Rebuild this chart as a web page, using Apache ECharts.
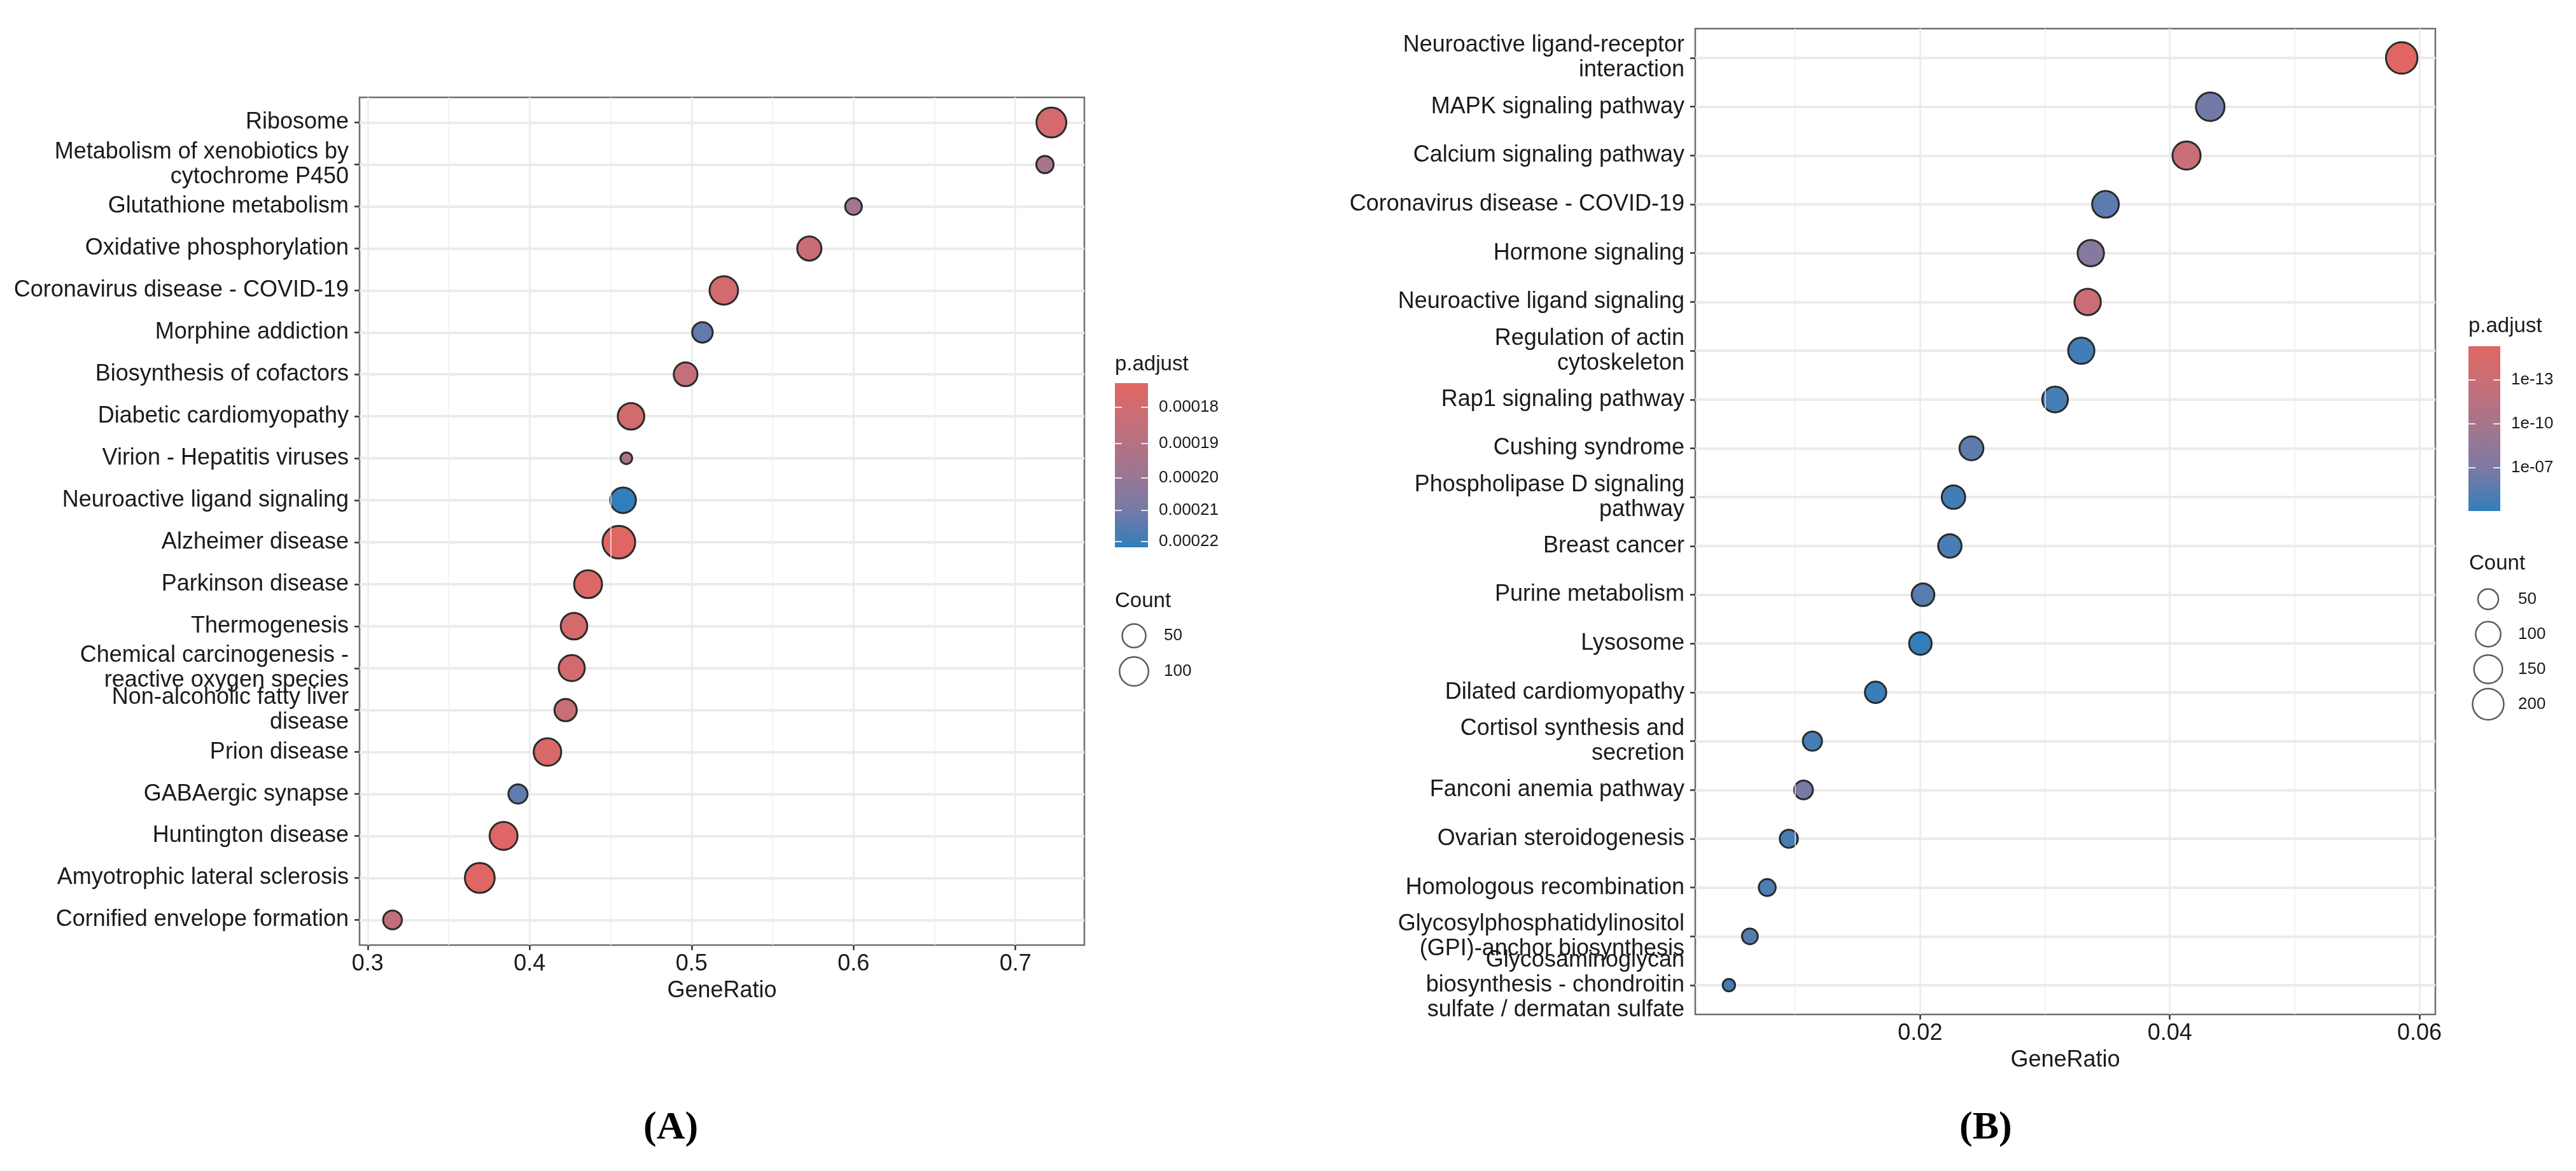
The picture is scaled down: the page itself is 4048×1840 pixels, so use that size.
<!DOCTYPE html>
<html>
<head>
<meta charset="utf-8">
<title>KEGG dot plots</title>
<script src="https://cdn.jsdelivr.net/npm/echarts@6/dist/echarts.min.js"></script>
<style>
  html, body {margin: 0; padding: 0; background: #fff;}
  #chart {width: 4048px; height: 1840px;}
</style>
</head>
<body>
<div id="chart"></div>
<script>
// ---- panel A ----
const aTerms = [
    'Ribosome',
    'Metabolism of xenobiotics by\ncytochrome P450',
    'Glutathione metabolism',
    'Oxidative phosphorylation',
    'Coronavirus disease - COVID-19',
    'Morphine addiction',
    'Biosynthesis of cofactors',
    'Diabetic cardiomyopathy',
    'Virion - Hepatitis viruses',
    'Neuroactive ligand signaling',
    'Alzheimer disease',
    'Parkinson disease',
    'Thermogenesis',
    'Chemical carcinogenesis -\nreactive oxygen species',
    'Non-alcoholic fatty liver\ndisease',
    'Prion disease',
    'GABAergic synapse',
    'Huntington disease',
    'Amyotrophic lateral sclerosis',
    'Cornified envelope formation',
]
const aGeneRatio = [0.7222, 0.7182, 0.6, 0.5727, 0.5199, 0.5067, 0.4963, 0.4626, 0.4597, 0.4577,
    0.4551, 0.4361, 0.4274, 0.426, 0.4222, 0.411, 0.3928, 0.3839, 0.3692, 0.3153]
const aCount = [110, 15, 13, 55, 95, 30, 51, 75, 5, 67, 145, 89, 75, 71, 41, 85, 23, 89, 110, 21]
const aPAdjust = [1.779e-4, 1.939e-4, 1.963e-4, 1.824e-4, 1.788e-4, 2.135e-4, 1.846e-4, 1.788e-4, 1.939e-4, 2.22e-4,
    1.736e-4, 1.757e-4, 1.779e-4, 1.788e-4, 1.832e-4, 1.761e-4, 2.135e-4, 1.745e-4, 1.74e-4, 1.855e-4]
const aRatioTicks = [0.3, 0.4, 0.5, 0.6, 0.7]
const aRatioMinor = [0.35, 0.45, 0.55, 0.65]
const aColorTicks = [0.00018, 0.00019, 0.0002, 0.00021, 0.00022]
const aCountBreaks = [50, 100]

// ---- panel B ----
const bTerms = [
    'Neuroactive ligand-receptor\ninteraction',
    'MAPK signaling pathway',
    'Calcium signaling pathway',
    'Coronavirus disease - COVID-19',
    'Hormone signaling',
    'Neuroactive ligand signaling',
    'Regulation of actin\ncytoskeleton',
    'Rap1 signaling pathway',
    'Cushing syndrome',
    'Phospholipase D signaling\npathway',
    'Breast cancer',
    'Purine metabolism',
    'Lysosome',
    'Dilated cardiomyopathy',
    'Cortisol synthesis and\nsecretion',
    'Fanconi anemia pathway',
    'Ovarian steroidogenesis',
    'Homologous recombination',
    'Glycosylphosphatidylinositol\n(GPI)-anchor biosynthesis',
    'Glycosaminoglycan\nbiosynthesis - chondroitin\nsulfate / dermatan sulfate',
]
const bGeneRatio = [0.05858, 0.04324, 0.04134, 0.03485, 0.03367, 0.03342, 0.03291, 0.03081, 0.02411, 0.02267,
    0.02238, 0.02023, 0.02002, 0.01643, 0.01137, 0.01066, 0.00948, 0.00775, 0.00636, 0.00468]
const bCount = [206, 152, 145, 123, 118, 118, 116, 108, 85, 80, 79, 71, 70, 58, 40, 37, 33, 27, 22, 16]
const bPAdjust = [5e-16, 3e-7, 1.2e-13, 1.8e-6, 2e-8, 8e-14, 2.4e-5, 1.5e-5, 1.8e-6, 2.4e-5,
    1.1e-5, 3.1e-6, 8.9e-5, 5.4e-5, 1.5e-5, 2e-7, 1.5e-5, 6.6e-6, 4e-6, 2.4e-5]
const bRatioTicks = [0.02, 0.04, 0.06]
const bRatioMinor = [0.01, 0.03, 0.05]
const bColorTicks = [1e-13, 1e-10, 1e-7]
const bCountBreaks = [50, 100, 150, 200]

// low p.adjust -> red, high -> blue (Lab-ish steps)
const gradient = ['#e06663', '#c46f79', '#a3758e', '#7a7aa4', '#327eba']
const FONT = '"Liberation Sans", Arial, Helvetica, sans-serif'
const TEXT = '#1a1a1a'

const option = {
    animation: false,
    backgroundColor: '#fff',
    grid: [],
    xAxis: [],
    yAxis: [],
    series: [],
    visualMap: [],
    title: [],
}

function addPanel(p) {
    const g0 = option.grid.length
    const x0 = option.xAxis.length
    const y0 = option.yAxis.length
    const n = p.terms.length
    const rMin = Math.min(...p.ratio)
    const rMax = Math.max(...p.ratio)
    const pad = (rMax - rMin) * 0.05
    const logP = p.padj.map(Math.log10)
    const lMin = Math.min(...logP)
    const lMax = Math.max(...logP)
    const cMin = Math.min(...p.count)
    const cMax = Math.max(...p.count)
    const size = (c) => p.sizeRange[0] + (p.sizeRange[1] - p.sizeRange[0]) * Math.sqrt(Math.max(0, (c - cMin) / (cMax - cMin)))
    const rows = p.terms.map((t, i) => i)
    const cbTicks = p.colorTicks.map(Math.log10)

    option.grid.push(
        {left: p.main[0], top: p.main[1], width: p.main[2], height: p.main[3], show: true, borderColor: '#6e6e6e', borderWidth: 2.5, backgroundColor: '#fff'},
        {left: p.bar[0], top: p.bar[1], width: p.bar[2], height: p.bar[3]},
        {left: p.keys[0], top: p.keys[1], width: p.keys[2], height: p.keys[3]},
    )

    option.xAxis.push(
        {
            gridIndex: g0,
            type: 'value',
            position: 'bottom',
            min: rMin - pad,
            max: rMax + pad,
            axisLine: {show: false, onZero: false},
            axisTick: {show: true, length: 8, lineStyle: {color: '#333', width: 2.5}, customValues: p.ticks},
            axisLabel: {
                customValues: p.ticks,
                margin: 12,
                fontSize: 36,
                fontFamily: FONT,
                color: TEXT,
                formatter: (v) => v.toFixed(p.digits),
            },
            splitLine: {show: true, lineStyle: {color: '#ebebeb', width: 2.5}},
            name: 'GeneRatio',
            nameLocation: 'middle',
            nameGap: 54,
            nameTextStyle: {fontSize: 36, fontFamily: FONT, color: TEXT},
        },
        {gridIndex: g0 + 1, type: 'value', min: 0, max: 1, show: false, axisLine: {onZero: false}},
        {gridIndex: g0 + 2, type: 'value', min: 0, max: 1, show: false, axisLine: {onZero: false}},
    )

    // row labels split over two axes (even / odd rows) so that
    // overlapping multi-line labels are all kept, like the original
    const rowAxis = (rowSet) => ({
        gridIndex: g0,
        type: 'value',
        position: 'left',
        offset: 0,
        inverse: true,
        min: -0.6,
        max: n - 1 + 0.6,
        axisLine: {show: false, onZero: false},
        axisTick: {show: true, length: 8, lineStyle: {color: '#333', width: 2.5}, customValues: rowSet},
        axisLabel: {
            customValues: rowSet,
            showMinLabel: true,
            showMaxLabel: true,
            margin: 17,
            fontSize: 36,
            lineHeight: 39,
            fontFamily: FONT,
            color: TEXT,
            formatter: (v) => p.terms[Math.round(v)],
        },
        splitLine: {show: true, lineStyle: {color: '#ebebeb', width: 4}},
    })

    const cbAxis = (position, showLabel) => ({
        gridIndex: g0 + 1,
        type: 'value',
        inverse: true,
        min: lMin,
        max: lMax,
        position,
        z: 5,
        axisLine: {show: false, onZero: false},
        axisTick: {show: true, inside: true, length: 11, lineStyle: {color: 'rgba(255,255,255,0.8)', width: 2}, customValues: cbTicks},
        axisLabel: {
            show: showLabel,
            customValues: cbTicks,
            margin: 17,
            fontSize: 26,
            fontFamily: FONT,
            color: TEXT,
            formatter: p.cbFormat,
        },
        splitLine: {show: false},
    })

    option.yAxis.push(
        rowAxis(rows.filter((i) => i % 2 === 0)),
        rowAxis(rows.filter((i) => i % 2 === 1)),
        cbAxis('right', true),
        cbAxis('left', false),
        {
            gridIndex: g0 + 2,
            type: 'category',
            inverse: true,
            position: 'right',
            data: p.breaks.map(String),
            axisLine: {show: false, onZero: false},
            axisTick: {show: false},
            splitLine: {show: false},
            axisLabel: {interval: 0, margin: 17, fontSize: 26, fontFamily: FONT, color: TEXT},
        },
    )

    option.visualMap.push({
        type: 'continuous',
        show: false,
        seriesIndex: option.series.length,
        dimension: 3,
        min: lMin,
        max: lMax,
        inRange: {color: gradient},
    })

    option.series.push(
        {
            type: 'scatter',
            xAxisIndex: x0,
            yAxisIndex: y0,
            data: p.terms.map((t, i) => [p.ratio[i], i, p.count[i], logP[i]]),
            symbolSize: (v) => size(v[2]),
            itemStyle: {borderColor: '#2b2b2b', borderWidth: 3, opacity: 1},
            z: 3,
        },
        // minor vertical grid lines
        {
            type: 'scatter',
            xAxisIndex: x0,
            yAxisIndex: y0,
            data: [],
            silent: true,
            z: 1,
            markLine: {
                silent: true,
                symbol: ['none', 'none'],
                label: {show: false},
                emphasis: {disabled: true},
                lineStyle: {type: 'solid', color: '#efefef', width: 1.5},
                data: p.minor.map((v) => ({xAxis: v})),
            },
        },
        {
            type: 'custom',
            xAxisIndex: x0 + 1,
            yAxisIndex: y0 + 2,
            data: [[0, lMin, lMax]],
            encode: {x: 0, y: [1, 2]},
            silent: true,
            z: 2,
            renderItem(params, api) {
                const a = api.coord([0, api.value(1)])
                const b = api.coord([1, api.value(2)])
                return {
                    type: 'rect',
                    shape: {x: a[0], y: Math.min(a[1], b[1]), width: b[0] - a[0], height: Math.abs(b[1] - a[1])},
                    style: {
                        fill: new echarts.graphic.LinearGradient(0, 0, 0, 1,
                            gradient.map((c, i) => ({offset: i / (gradient.length - 1), color: c}))),
                    },
                }
            },
        },
        {
            type: 'scatter',
            xAxisIndex: x0 + 2,
            yAxisIndex: y0 + 4,
            data: p.breaks.map((c, i) => [0.5, i, c]),
            symbolSize: (v) => size(v[2]),
            itemStyle: {color: 'rgba(0,0,0,0)', borderColor: '#333', borderWidth: 2.5},
            silent: true,
        },
    )

    const legendTitle = {fontSize: 33, fontWeight: 'normal', fontFamily: FONT, color: TEXT}
    option.title.push(
        {text: 'p.adjust', left: p.bar[0], top: p.colorTitleTop, padding: 0, textStyle: legendTitle},
        {text: 'Count', left: p.keys[0], top: p.countTitleTop, padding: 0, textStyle: legendTitle},
        {
            text: '{n|(}{b|' + p.tag + '}{n|)}',
            left: p.tagPos[0],
            top: p.tagPos[1],
            padding: 0,
            textStyle: {
                rich: {
                    n: {fontSize: 62, fontFamily: '"Liberation Serif", "Times New Roman", serif', color: '#000'},
                    b: {fontSize: 62, fontWeight: 'bold', fontFamily: '"Liberation Serif", "Times New Roman", serif', color: '#000'},
                },
            },
        },
    )
}

addPanel({
    terms: aTerms,
    ratio: aGeneRatio,
    count: aCount,
    padj: aPAdjust,
    ticks: aRatioTicks,
    minor: aRatioMinor,
    digits: 1,
    colorTicks: aColorTicks,
    cbFormat: (v) => Math.pow(10, v).toFixed(5),
    breaks: aCountBreaks,
    sizeRange: [18.3, 51.3],
    main: [565, 153, 1139, 1332],
    bar: [1752, 602, 52, 258],
    keys: [1752, 971, 60, 112],
    colorTitleTop: 556,
    countTitleTop: 928,
    tag: 'A',
    tagPos: [1011, 1742],
})

addPanel({
    terms: bTerms,
    ratio: bGeneRatio,
    count: bCount,
    padj: bPAdjust,
    ticks: bRatioTicks,
    minor: bRatioMinor,
    digits: 2,
    colorTicks: bColorTicks,
    cbFormat: (v) => {
        const e = Math.round(-v)
        return '1e-' + (e < 10 ? '0' + e : e)
    },
    breaks: bCountBreaks,
    sizeRange: [19.4, 49.5],
    main: [2664, 45, 1163, 1549],
    bar: [3879, 544, 50, 259],
    keys: [3880, 914, 60, 220],
    colorTitleTop: 496,
    countTitleTop: 869,
    tag: 'B',
    tagPos: [3079, 1742],
})

const myChart = echarts.init(document.getElementById('chart'))
myChart.setOption(option)
</script>
</body>
</html>
